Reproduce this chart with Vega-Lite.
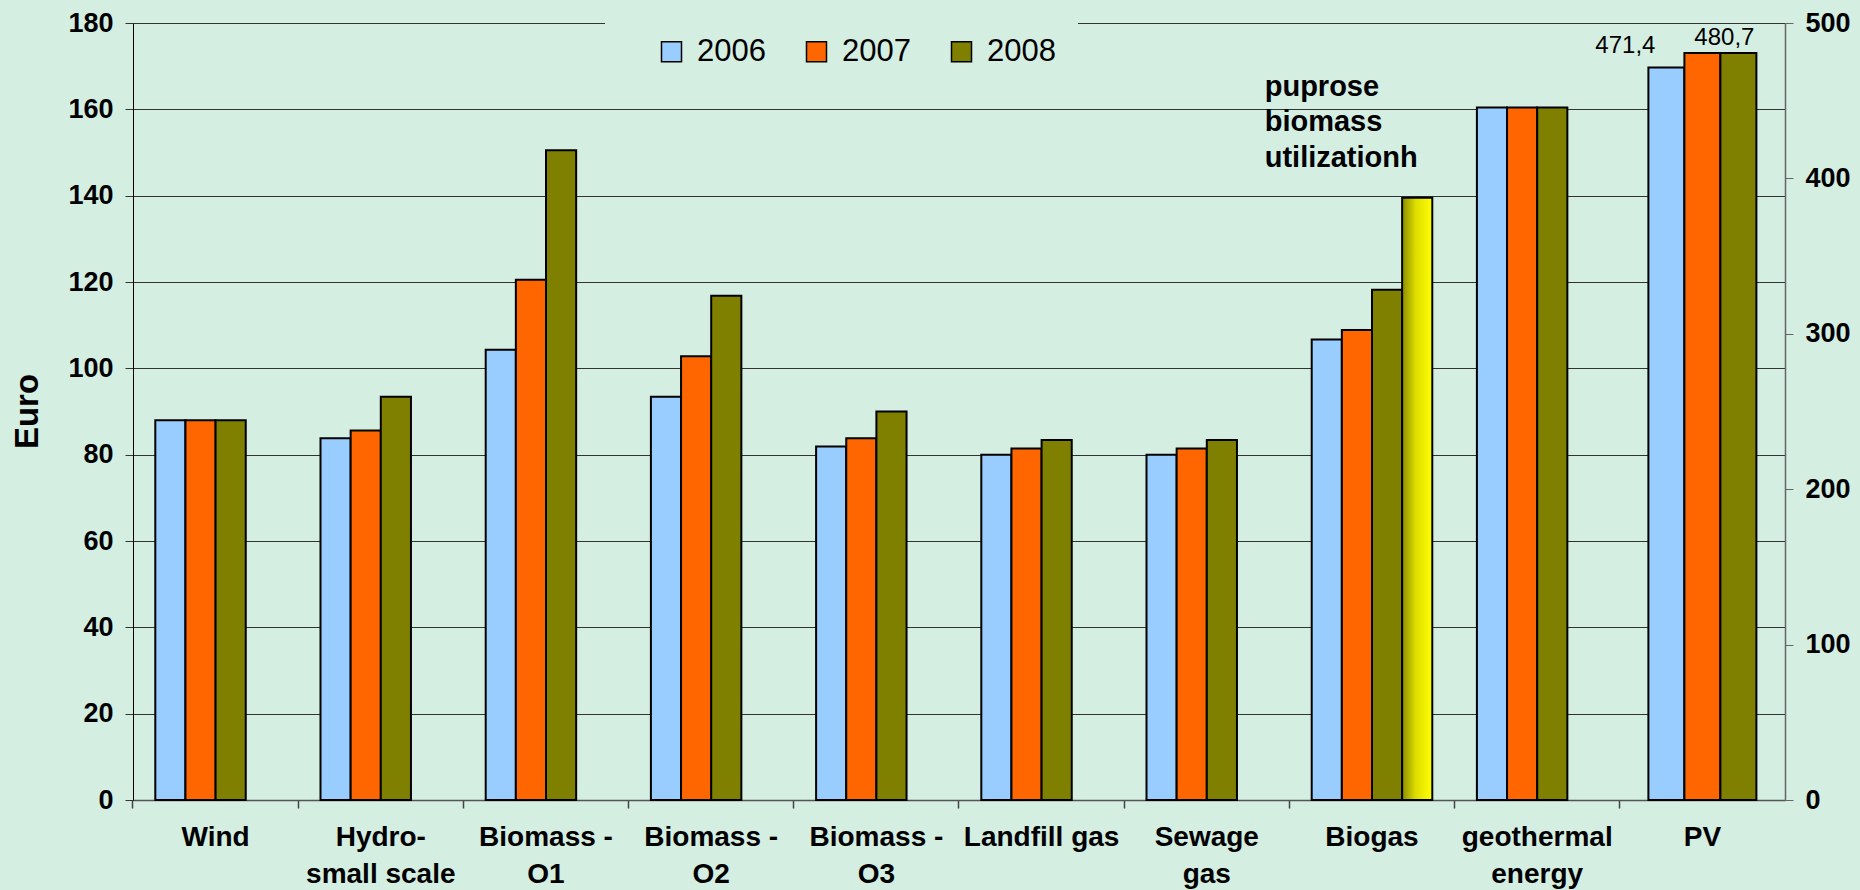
{
  "$schema": "https://vega.github.io/schema/vega-lite/v6.json",
  "width": 1652,
  "height": 777,
  "autosize": "none",
  "padding": {"left": 133, "top": 23, "right": 75, "bottom": 90},
  "background": "#d4eee2",
  "config": {
    "view": {"stroke": null},
    "font": "Liberation Sans",
    "axis": {"labelFont": "Liberation Sans", "titleFont": "Liberation Sans", "labelColor": "#000", "titleColor": "#000"},
    "legend": {"labelFont": "Liberation Sans"}
  },
  "data": {
    "values": [
      {"category": "Wind", "series": "2006", "value": 88, "axis": "primary"},
      {"category": "Wind", "series": "2007", "value": 88, "axis": "primary"},
      {"category": "Wind", "series": "2008", "value": 88, "axis": "primary"},
      {"category": "Hydro-|small scale", "series": "2006", "value": 83.8, "axis": "primary"},
      {"category": "Hydro-|small scale", "series": "2007", "value": 85.6, "axis": "primary"},
      {"category": "Hydro-|small scale", "series": "2008", "value": 93.4, "axis": "primary"},
      {"category": "Biomass -|O1", "series": "2006", "value": 104.3, "axis": "primary"},
      {"category": "Biomass -|O1", "series": "2007", "value": 120.5, "axis": "primary"},
      {"category": "Biomass -|O1", "series": "2008", "value": 150.5, "axis": "primary"},
      {"category": "Biomass -|O2", "series": "2006", "value": 93.4, "axis": "primary"},
      {"category": "Biomass -|O2", "series": "2007", "value": 102.8, "axis": "primary"},
      {"category": "Biomass -|O2", "series": "2008", "value": 116.8, "axis": "primary"},
      {"category": "Biomass -|O3", "series": "2006", "value": 81.9, "axis": "primary"},
      {"category": "Biomass -|O3", "series": "2007", "value": 83.8, "axis": "primary"},
      {"category": "Biomass -|O3", "series": "2008", "value": 90.0, "axis": "primary"},
      {"category": "Landfill gas", "series": "2006", "value": 80.0, "axis": "primary"},
      {"category": "Landfill gas", "series": "2007", "value": 81.4, "axis": "primary"},
      {"category": "Landfill gas", "series": "2008", "value": 83.4, "axis": "primary"},
      {"category": "Sewage|gas", "series": "2006", "value": 80.0, "axis": "primary"},
      {"category": "Sewage|gas", "series": "2007", "value": 81.4, "axis": "primary"},
      {"category": "Sewage|gas", "series": "2008", "value": 83.4, "axis": "primary"},
      {"category": "Biogas", "series": "2006", "value": 106.7, "axis": "primary"},
      {"category": "Biogas", "series": "2007", "value": 108.9, "axis": "primary"},
      {"category": "Biogas", "series": "2008", "value": 118.2, "axis": "primary"},
      {"category": "Biogas", "series": "purpose", "value": 139.5, "axis": "primary"},
      {"category": "geothermal|energy", "series": "2006", "value": 160.4, "axis": "primary"},
      {"category": "geothermal|energy", "series": "2007", "value": 160.4, "axis": "primary"},
      {"category": "geothermal|energy", "series": "2008", "value": 160.4, "axis": "primary"},
      {"category": "PV", "series": "2006", "value": 471.4, "axis": "secondary", "label": "471,4"},
      {"category": "PV", "series": "2007", "value": 480.7, "axis": "secondary", "label": "480,7"},
      {"category": "PV", "series": "2008", "value": 480.7, "axis": "secondary"}
    ]
  },
  "layer": [
    {
      "encoding": {
        "x": {
          "field": "category", "type": "nominal",
          "scale": {
            "domain": ["Wind", "Hydro-|small scale", "Biomass -|O1", "Biomass -|O2", "Biomass -|O3", "Landfill gas", "Sewage|gas", "Biogas", "geothermal|energy", "PV"],
            "paddingInner": 0.27, "paddingOuter": 0.135
          },
          "axis": {
            "title": null, "labelAngle": 0, "orient": "bottom",
            "bandPosition": -0.185, "ticks": true, "tickSize": 8, "tickColor": "#444", "tickWidth": 1.5,
            "labelExpr": "split(datum.label, '|')",
            "labelFontSize": 28, "labelFontWeight": "bold", "labelLineHeight": 37,
            "labelPadding": 15, "labelLimit": 400,
            "domainColor": "#555", "domainWidth": 1.5
          }
        },
        "y": {
          "field": "value", "type": "quantitative",
          "scale": {"domain": [0, 180], "nice": false},
          "axis": {
            "title": "Euro", "titleFontSize": 33, "titleFontWeight": "bold",
            "titleAngle": -90, "titleBaseline": "alphabetic", "titleAlign": "center",
            "titleX": -96, "titleY": 388,
            "values": [0, 20, 40, 60, 80, 100, 120, 140, 160, 180],
            "labelFontSize": 27, "labelFontWeight": "bold", "labelPadding": 12,
            "tickSize": 8, "tickColor": "#333",
            "domainColor": "#000", "domainWidth": 1,
            "grid": true, "gridColor": "#333", "gridWidth": 1
          }
        }
      },
      "layer": [
        {
          "transform": [{"filter": "datum.axis == 'primary' && datum.series != 'purpose'"}],
          "mark": {"type": "bar", "stroke": "black", "strokeWidth": 2},
          "encoding": {
            "xOffset": {"field": "series", "type": "nominal", "scale": {"domain": ["2006", "2007", "2008", "purpose"], "paddingInner": 0, "paddingOuter": 0}},
            "color": {
              "field": "series", "type": "nominal",
              "scale": {"domain": ["2006", "2007", "2008"], "range": ["#99ccff", "#ff6600", "#808000"]},
              "legend": {
                "orient": "none", "legendX": 472, "legendY": -9, "direction": "horizontal",
                "title": null, "symbolType": "square", "symbolSize": 400,
                "symbolStrokeColor": "black", "symbolStrokeWidth": 1.5,
                "labelFontSize": 31, "labelOffset": 10, "columnPadding": 6,
                "symbolOffset": 29,
                "padding": 22, "fillColor": "#d4eee2", "symbolOpacity": 1
              }
            }
          }
        },
        {
          "transform": [{"filter": "datum.series == 'purpose'"}],
          "mark": {
            "type": "bar", "stroke": "black", "strokeWidth": 2,
            "fill": {"gradient": "linear", "x1": 0, "x2": 1, "y1": 0, "y2": 0,
              "stops": [{"offset": 0, "color": "#8c8c00"}, {"offset": 0.45, "color": "#dede00"}, {"offset": 1, "color": "#ffff00"}]}
          },
          "encoding": {
            "xOffset": {"field": "series", "type": "nominal", "scale": {"domain": ["2006", "2007", "2008", "purpose"], "paddingInner": 0, "paddingOuter": 0}}
          }
        },
        {
          "transform": [{"filter": "datum.series == 'purpose'"}],
          "mark": {
            "type": "text",
            "align": "left", "baseline": "alphabetic", "fontSize": 29, "fontWeight": "bold",
            "lineHeight": 35.5, "dx": -47, "color": "#000"
          },
          "encoding": {
            "x": {"field": "category", "type": "nominal", "bandPosition": 0},
            "y": {"datum": 163.2},
            "text": {"value": ["puprose", "biomass", "utilizationh"]}
          }
        }
      ]
    },
    {
      "transform": [{"filter": "datum.axis == 'secondary'"}],
      "encoding": {
        "x": {"field": "category", "type": "nominal"},
        "y": {
          "field": "value", "type": "quantitative",
          "scale": {"domain": [0, 500], "nice": false},
          "axis": {
            "orient": "right", "title": null, "grid": false,
            "values": [0, 100, 200, 300, 400, 500],
            "labelFontSize": 27, "labelFontWeight": "bold", "labelPadding": 12,
            "tickSize": 8, "tickColor": "#666", "domainColor": "#666", "domainWidth": 1.5
          }
        },
        "xOffset": {"field": "series", "type": "nominal", "scale": {"domain": ["2006", "2007", "2008"], "paddingInner": 0, "paddingOuter": 0.175}}
      },
      "layer": [
        {
          "mark": {"type": "bar", "stroke": "black", "strokeWidth": 2},
          "encoding": {"color": {"field": "series", "type": "nominal"}}
        },
        {
          "transform": [{"filter": "datum.series == '2006'"}],
          "mark": {"type": "text", "fontSize": 24, "baseline": "alphabetic", "dx": -41, "dy": -14, "color": "#000"},
          "encoding": {"text": {"field": "label"}}
        },
        {
          "transform": [{"filter": "datum.series == '2007'"}],
          "mark": {"type": "text", "fontSize": 24, "baseline": "alphabetic", "dx": 22, "dy": -8, "color": "#000"},
          "encoding": {"text": {"field": "label"}}
        }
      ]
    }
  ],
  "resolve": {"scale": {"y": "independent", "xOffset": "independent"}}
}
